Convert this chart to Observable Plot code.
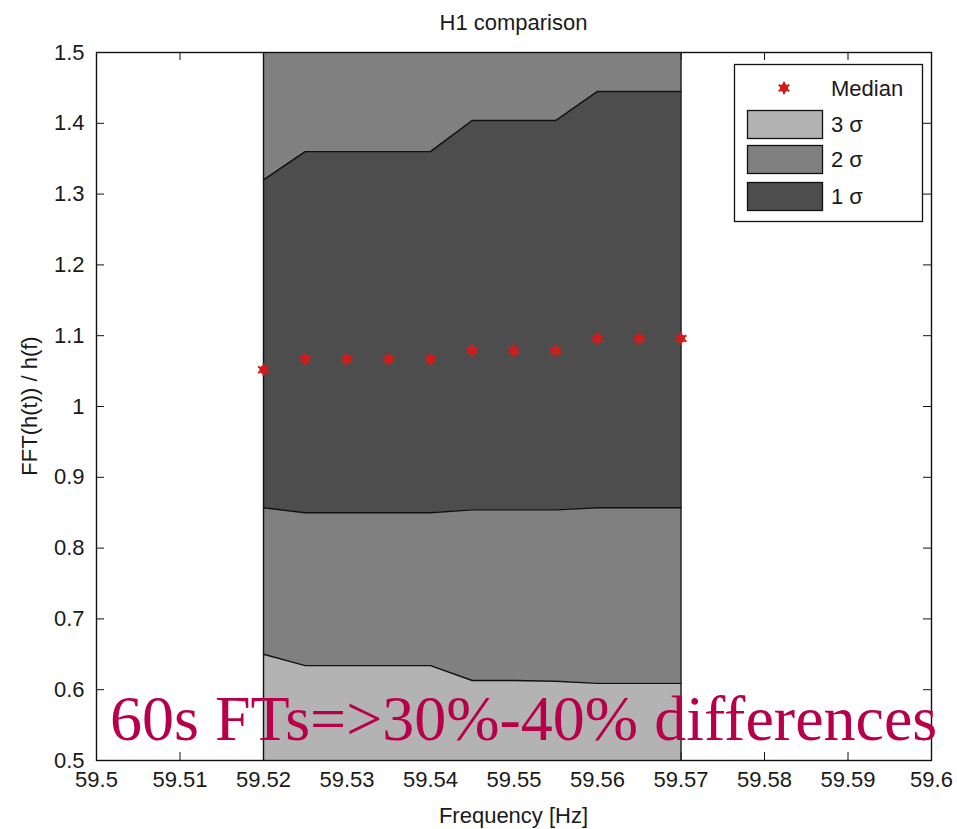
<!DOCTYPE html>
<html><head><meta charset="utf-8">
<script src="https://cdn.jsdelivr.net/npm/d3@7"></script>
<script src="https://cdn.jsdelivr.net/npm/@observablehq/plot@0.6"></script>
<style>body{margin:0;background:#fff;} svg{display:block}</style>
</head><body><div id="chart"></div>
<script>
// ---- data ----
const freq   = [59.52, 59.525, 59.53, 59.535, 59.54, 59.545, 59.55, 59.555, 59.56, 59.565, 59.57];
const median = [1.052, 1.067, 1.067, 1.067, 1.067, 1.079, 1.079, 1.079, 1.096, 1.096, 1.096];
const upper1 = [1.320, 1.360, 1.360, 1.360, 1.360, 1.404, 1.404, 1.404, 1.445, 1.445, 1.445];
const lower1 = [0.857, 0.850, 0.850, 0.850, 0.850, 0.854, 0.854, 0.854, 0.857, 0.857, 0.857];
const lower2 = [0.650, 0.634, 0.634, 0.634, 0.634, 0.613, 0.613, 0.612, 0.609, 0.609, 0.609];
const xTicks = [59.5, 59.51, 59.52, 59.53, 59.54, 59.55, 59.56, 59.57, 59.58, 59.59, 59.6];
const xTickLabels = ["59.5","59.51","59.52","59.53","59.54","59.55","59.56","59.57","59.58","59.59","59.6"];
const yTicks = [0.5, 0.6, 0.7, 0.8, 0.9, 1.0, 1.1, 1.2, 1.3, 1.4, 1.5];
const yTickLabels = ["0.5","0.6","0.7","0.8","0.9","1","1.1","1.2","1.3","1.4","1.5"];
const legendLabels = ["Median", "3 σ", "2 σ", "1 σ"];
const titleText = "H1 comparison";
const xLabel = "Frequency [Hz]";
const yLabel = "FFT(h(t)) / h(f)";
const noteText = "60s FTs=>30%-40% differences";

const xDomain = [59.5, 59.6];
const yDomain = [0.5, 1.5];
const col3 = "#b3b3b3", col2 = "#808080", col1 = "#4d4d4d", red = "#d21c1c", ink = "#111";

const rows = freq.map((f, i) => ({f, median: median[i], u1: upper1[i], l1: lower1[i], l2: lower2[i]}));

const W = 957, H = 829, mL = 96, mR = 26, mT = 52, mB = 69;
const fw = W - mL - mR, fh = H - mT - mB;
const tk = 8;

const svg = Plot.plot({
  width: W, height: H,
  marginLeft: mL, marginRight: mR, marginTop: mT, marginBottom: mB,
  style: {fontFamily: "'Liberation Sans', Arial, sans-serif", fontSize: "22px", color: "#1a1a1a", background: "#fff"},
  x: {domain: xDomain, ticks: xTicks, tickFormat: d => xTickLabels[xTicks.indexOf(d)], tickSize: 0, tickPadding: 11, label: null},
  y: {domain: yDomain, ticks: yTicks, tickFormat: d => yTickLabels[yTicks.indexOf(d)], tickSize: 0, tickPadding: 12, label: null},
  marks: [
    // inward ticks on four sides (under the data, like MATLAB)
    Plot.tickX(xTicks, {x: d => d, insetTop: fh - tk, stroke: ink}),
    Plot.tickX(xTicks, {x: d => d, insetBottom: fh - tk, stroke: ink}),
    Plot.tickY(yTicks, {y: d => d, insetRight: fw - tk, stroke: ink}),
    Plot.tickY(yTicks, {y: d => d, insetLeft: fw - tk, stroke: ink}),
    // bands
    Plot.areaY(rows, {x: "f", y1: () => yDomain[0], y2: () => yDomain[1], fill: col3}),
    Plot.areaY(rows, {x: "f", y1: "l2", y2: () => yDomain[1], fill: col2}),
    Plot.areaY(rows, {x: "f", y1: "l1", y2: "u1", fill: col1}),
    Plot.line(rows, {x: "f", y: "l2", stroke: ink, strokeWidth: 1.4}),
    Plot.line(rows, {x: "f", y: "l1", stroke: ink, strokeWidth: 1.4}),
    Plot.line(rows, {x: "f", y: "u1", stroke: ink, strokeWidth: 1.4}),
    Plot.ruleX([freq[0], freq[freq.length - 1]], {stroke: ink, strokeWidth: 1.4}),
    // median markers
    Plot.dot(rows, {x: "f", y: "median", r: 4.2, fill: red}),
    Plot.dot(rows, {x: "f", y: "median", r: 6, symbol: "asterisk", stroke: red, strokeWidth: 2}),
    Plot.frame({stroke: ink, strokeWidth: 1.4})
  ]
});

const s = d3.select(svg);
const font = "'Liberation Sans', Arial, sans-serif";
s.append("text").attr("x", mL + fw / 2).attr("y", 22).attr("text-anchor", "middle").attr("dominant-baseline", "central")
  .attr("font-family", font).attr("font-size", 22).attr("fill", "#1a1a1a").text(titleText);
s.append("text").attr("x", mL + fw / 2).attr("y", 815).attr("text-anchor", "middle").attr("dominant-baseline", "central")
  .attr("font-family", font).attr("font-size", 22).attr("fill", "#1a1a1a").text(xLabel);
s.append("text").attr("transform", `translate(29,${mT + fh / 2}) rotate(-90)`).attr("text-anchor", "middle").attr("dominant-baseline", "central")
  .attr("font-family", font).attr("font-size", 22).attr("fill", "#1a1a1a").text(yLabel);

// legend
const lg = s.append("g");
lg.append("rect").attr("x", 734.5).attr("y", 64.5).attr("width", 188).attr("height", 157).attr("fill", "#fff").attr("stroke", ink).attr("stroke-width", 1.3);
lg.append("circle").attr("cx", 784).attr("cy", 88).attr("r", 4.2).attr("fill", red);
lg.append("path").attr("transform", "translate(784,88)").attr("d", d3.symbol(d3.symbolAsterisk, 110)()).attr("stroke", red).attr("stroke-width", 2).attr("fill", "none");
const swCols = [col3, col2, col1];
const swY = [110, 145, 182];
swY.forEach((y, i) => {
  lg.append("rect").attr("x", 747.5).attr("y", y + 0.5).attr("width", 75).attr("height", 28).attr("fill", swCols[i]).attr("stroke", ink).attr("stroke-width", 1.3);
});
const textY = [88, 124, 159, 196];
legendLabels.forEach((t, i) => {
  lg.append("text").attr("x", 831).attr("y", textY[i]).attr("text-anchor", "start").attr("dominant-baseline", "central")
    .attr("font-family", font).attr("font-size", 22).attr("fill", "#1a1a1a").text(t);
});

// annotation
s.append("text").attr("x", 110).attr("y", 740).attr("text-anchor", "start").attr("font-family", "'Liberation Serif', 'Times New Roman', serif")
  .attr("font-size", 64).attr("fill", "#b8004a").text(noteText);

document.getElementById("chart").appendChild(svg);
</script>
</body></html>
